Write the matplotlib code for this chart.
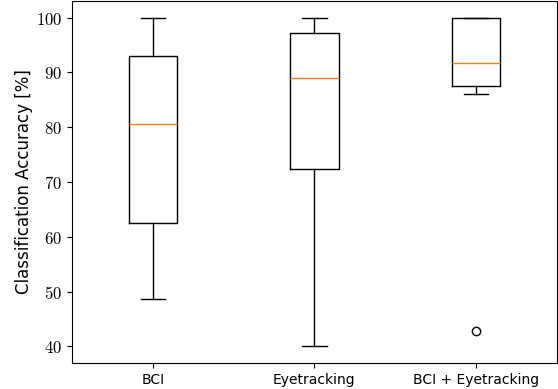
import matplotlib
matplotlib.use("Agg")
import matplotlib.pyplot as plt

plt.rcParams['mathtext.fontset'] = 'cm'
plt.rcParams['font.family'] = ['DejaVu Sans']

categories = ["BCI", "Eyetracking", "BCI + Eyetracking"]
whislo = [48.6, 40.0, 86.1]
q1 = [62.5, 72.3, 87.5]
med = [80.6, 88.9, 91.8]
q3 = [93.0, 97.2, 100.0]
whishi = [100.0, 100.0, 100.0]
fliers = [[], [], [42.9]]
yticks = [40, 50, 60, 70, 80, 90, 100]

stats = []
for i, c in enumerate(categories):
    stats.append(dict(label=c, whislo=whislo[i], q1=q1[i], med=med[i],
                      q3=q3[i], whishi=whishi[i], fliers=fliers[i]))

fig = plt.figure(figsize=(5.58, 3.89), dpi=100)
ax = fig.add_axes([0.129, 0.067, 0.869, 0.930])
ax.bxp(stats)
ax.set_yticks(yticks)
ax.set_yticklabels([r"$%d$" % t for t in yticks], fontsize=12)
ax.tick_params(axis='x', labelsize=10)
ax.set_ylabel("Classification Accuracy [%]", fontsize=12, labelpad=2)
fig.savefig("out.png", dpi=100)
